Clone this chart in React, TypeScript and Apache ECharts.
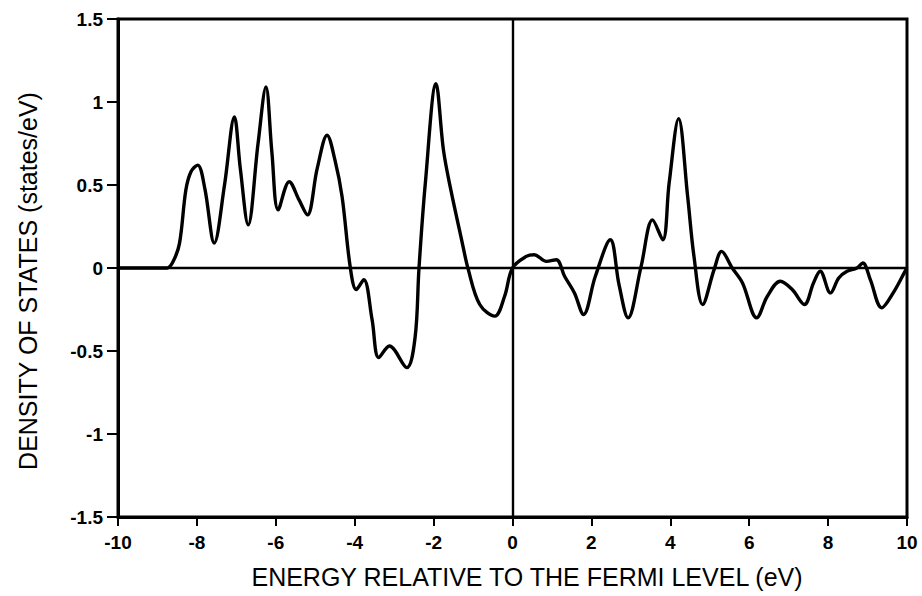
import React, { useEffect, useRef } from "react";
import * as echarts from "echarts";

// Energy grid (eV, relative to the Fermi level) and density of states (states/eV)
const energy = [
  -10, -9.0, -8.75, -8.6, -8.44, -8.28, -8.15, -7.98, -7.8, -7.56, -7.3, -7.05, -6.9, -6.7,
  -6.45, -6.25, -6.1, -5.94, -5.66, -5.41, -5.2, -4.95, -4.7, -4.5, -4.32, -4.11, -3.96,
  -3.77, -3.56, -3.39, -3.12, -2.68, -2.47, -2.37, -2.21, -1.94, -1.75, -1.58, -1.29, -1.12,
  -0.83, -0.45, -0.2, 0.0, 0.35, 0.55, 0.86, 1.11, 1.32, 1.57, 1.8, 2.1, 2.48, 2.7, 2.93,
  3.26, 3.55, 3.81, 3.97, 4.21, 4.44, 4.6, 4.82, 5.11, 5.3, 5.57, 5.83, 6.19, 6.46, 6.79,
  7.09, 7.4, 7.63, 7.8, 8.06, 8.27, 8.48, 8.73, 8.88, 9.07, 9.36, 9.65, 9.95, 10,
];
const dos = [
  0, 0, 0, 0.04, 0.15, 0.47, 0.58, 0.62, 0.48, 0.15, 0.5, 0.91, 0.6, 0.26,
  0.75, 1.09, 0.7, 0.35, 0.52, 0.41, 0.32, 0.6, 0.8, 0.65, 0.43, 0, -0.13,
  -0.07, -0.31, -0.54, -0.47, -0.6, -0.42, 0, 0.51, 1.11, 0.71, 0.49, 0.17, -0.01,
  -0.22, -0.29, -0.17, 0, 0.07, 0.08, 0.04, 0.05, -0.05, -0.15, -0.28, -0.05, 0.17, -0.1, -0.3,
  0.01, 0.29, 0.17, 0.51, 0.9, 0.43, 0.07, -0.22, -0.01, 0.1, 0, -0.09, -0.3, -0.17, -0.08,
  -0.13, -0.22, -0.09, -0.02, -0.15, -0.06, -0.02, 0, 0.03, -0.07, -0.24, -0.15, -0.02, 0,
];

// Axis ranges: [min, max, interval]
const xTicks = [-10, 10, 2];
const yTicks = [-1.5, 1.5, 0.5];

const xTitle = "ENERGY RELATIVE TO THE FERMI LEVEL (eV)";
const yTitle = "DENSITY OF STATES (states/eV)";

const FONT = "Liberation Sans, Arial, sans-serif";

export default function App() {
  const ref = useRef<HTMLDivElement>(null);

  useEffect(() => {
    if (!ref.current) return;
    const chart = echarts.init(ref.current, null, { renderer: "svg" });
    const points = energy.map((e, i) => [e, dos[i]]);

    const tickLabel = {
      fontFamily: FONT,
      fontWeight: "bold" as const,
      fontSize: 19,
      color: "#000",
    };
    const titleStyle = {
      fontFamily: FONT,
      fontSize: 25,
      fill: "#000",
      align: "center" as const,
      verticalAlign: "middle" as const,
    };

    chart.setOption({
      animation: false,
      backgroundColor: "#ffffff",
      grid: {
        left: 118,
        right: 15,
        top: 19,
        bottom: 79,
        show: true,
        borderColor: "#000",
        borderWidth: 3,
      },
      xAxis: {
        type: "value",
        min: xTicks[0],
        max: xTicks[1],
        interval: xTicks[2],
        axisLine: { onZero: false, lineStyle: { color: "#000", width: 3 } },
        axisTick: { length: 9, lineStyle: { color: "#000", width: 2 } },
        axisLabel: { ...tickLabel, margin: 16 },
        splitLine: { show: false },
      },
      yAxis: {
        type: "value",
        min: yTicks[0],
        max: yTicks[1],
        interval: yTicks[2],
        axisLine: { onZero: false, lineStyle: { color: "#000", width: 3 } },
        axisTick: { length: 11, lineStyle: { color: "#000", width: 2 } },
        axisLabel: { ...tickLabel, margin: 15 },
        splitLine: { show: false },
      },
      graphic: [
        {
          type: "text",
          x: 527,
          y: 577,
          style: { ...titleStyle, text: xTitle },
        },
        {
          type: "text",
          x: 28,
          y: 281,
          rotation: Math.PI / 2,
          style: { ...titleStyle, text: yTitle },
        },
      ],
      series: [
        {
          type: "line",
          data: points,
          smooth: 0.35,
          showSymbol: false,
          lineStyle: { color: "#000", width: 3.4 },
          markLine: {
            silent: true,
            symbol: "none",
            label: { show: false },
            lineStyle: { color: "#000", width: 2.4, type: "solid" },
            data: [{ yAxis: 0 }, { xAxis: 0 }],
          },
        },
      ],
    });

    return () => chart.dispose();
  }, []);

  return (
    <div
      ref={ref}
      style={{ position: "absolute", left: 0, top: 0, width: 922, height: 596 }}
    />
  );
}
